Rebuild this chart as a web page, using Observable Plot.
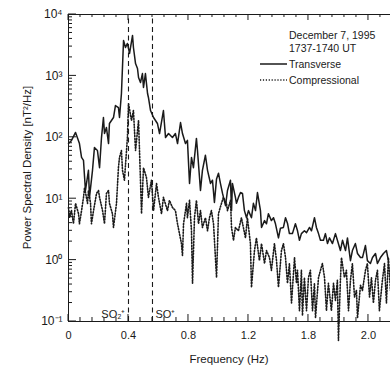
<!DOCTYPE html>
<html><head><meta charset="utf-8">
<script src="https://cdn.jsdelivr.net/npm/d3@7"></script>
<script src="https://cdn.jsdelivr.net/npm/@observablehq/plot@0.6"></script>
<style>body{margin:0;background:#fff} svg{font-family:"Liberation Sans",Arial,sans-serif}</style>
</head><body><div id="chart"></div>
<script>
const tFreq = [0,.020,.047,.073,.087,.100,.113,.133,.140,.160,.173,.193,.207,.220,.233,.240,.253,.267,.273,.300,.313,.333,.340,.353,.367,.380,.393,.407,.427,.433,.447,.460,.467,.480,.493,.500,.513,.527,.533,.547,.567,.593,.607,.633,.647,.667,.693,.713,.727,.747,.760,.780,.793,.807,.820,.833,.853,.860,.880,.893,.913,.927,.947,.960,.973,.987,1.000,1.013,1.027,1.047,1.060,1.080,1.087,1.093,1.113,1.120,1.133,1.147,1.160,1.173,1.187,1.200,1.220,1.233,1.247,1.260,1.280,1.287,1.307,1.320,1.333,1.353,1.367,1.380,1.400,1.413,1.433,1.447,1.460,1.473,1.493,1.513,1.527,1.540,1.553,1.573,1.587,1.607,1.620,1.640,1.653,1.667,1.680,1.700,1.713,1.727,1.740,1.760,1.780,1.793,1.813,1.827,1.847,1.860,1.880,1.893,1.913,1.927,1.947,1.960,1.980,1.993,2.013,2.027,2.047,2.060,2.080,2.100,2.120,2.133];
const tPsd = [79,89,120,79,47,42,13.6,29,10.5,29,68,61,32,99,210,115,144,79,168,210,329,305,210,517,3780,2900,3380,2320,4550,2900,1590,1320,942,781,1090,647,1090,517,445,273,210,168,115,273,99,115,99,115,79,174,115,79,89,17.7,47,32,96,61,13.6,29,51,29,17.7,20,8.7,21,26,17.7,12.2,7.7,13.6,20,6.4,17.7,10.5,8.4,10.5,12.6,12.2,6.4,4.9,6.4,4.9,8.4,6.4,12.6,6.4,3.4,4.4,3.9,5.7,4.4,4.9,3.9,2.3,3.3,3.4,4.9,4.0,2.7,2.7,3.9,3.0,2.1,2.7,3.0,2.8,3.4,3.0,4.9,3.4,2.7,2.1,2.1,2.7,1.86,2.3,1.86,2.7,2.1,1.43,2.1,1.43,2.3,0.98,1.43,1.86,1.28,1.10,1.10,1.73,0.98,0.88,1.10,1.28,0.88,1.10,1.28,1.43,0.98];
const cFreq = [0,.007,.020,.033,.047,.067,.073,.087,.100,.107,.127,.133,.147,.153,.167,.187,.200,.207,.227,.240,.253,.267,.273,.293,.300,.320,.333,.340,.353,.360,.373,.393,.400,.420,.433,.447,.467,.487,.500,.520,.533,.553,.567,.587,.600,.620,.633,.660,.673,.693,.713,.727,.753,.760,.767,.787,.793,.807,.820,.827,.840,.853,.867,.880,.893,.913,.927,.940,.953,.967,.987,1.000,1.020,1.033,1.053,1.060,1.080,1.087,1.100,1.113,1.133,1.153,1.180,1.193,1.213,1.220,1.240,1.253,1.273,1.287,1.307,1.320,1.340,1.353,1.373,1.387,1.400,1.420,1.433,1.447,1.460,1.473,1.487,1.507,1.520,1.527,1.540,1.553,1.560,1.573,1.587,1.600,1.613,1.627,1.640,1.647,1.667,1.680,1.693,1.707,1.720,1.733,1.753,1.767,1.780,1.793,1.800,1.813,1.820,1.840,1.853,1.867,1.880,1.893,1.907,1.920,1.927,1.947,1.960,1.980,1.993,2.007,2.020,2.033,2.047,2.060,2.073,2.093,2.107,2.120,2.133,2.147];
const cPsd = [7.2,4.9,6.4,3.9,8.4,5.7,3.9,6.4,10.5,15.2,8.4,13.6,8.4,3.9,6.4,12.2,13.6,10.5,6.4,3.9,12.2,13.6,8.4,5.7,3.4,8.4,32,47,61,29,20,99,355,188,273,61,188,5.7,32,22,10.5,20,6.4,17.7,10.5,5.7,10.5,6.4,9.4,7.2,6.4,3.9,1.86,1.19,3.9,8.4,4.9,9.4,3.0,0.42,4.9,9.4,3.9,6.4,3.4,4.9,3.0,4.9,6.4,3.9,0.52,5.7,8.4,10.5,8.4,6.4,9.4,3.4,2.1,3.4,3.0,4.9,2.3,4.9,1.86,0.36,1.43,2.3,0.98,1.86,0.88,1.43,1.10,0.68,1.86,0.98,0.36,1.43,1.86,1.10,0.42,0.88,0.20,1.10,0.42,0.68,0.15,0.68,0.125,0.52,0.15,0.52,0.68,0.15,0.42,0.115,0.52,0.68,0.88,0.52,0.15,0.42,0.15,0.42,0.22,0.47,0.049,0.47,1.10,0.52,0.68,0.15,0.47,0.88,0.25,0.32,0.115,0.39,0.32,0.68,0.88,0.25,0.52,0.20,0.47,0.68,0.15,0.47,0.88,0.20,1.10,0.32];

const xTicks = [0, 0.4, 0.8, 1.2, 1.6, 2.0];
const xTickLabels = ["0", "0.4", "0.8", "1.2", "1.8", "2.0"];
const yTicks = [0.1, 1, 10, 100, 1000, 10000];
const yTickLabels = ["10⁻¹", "10⁰", "10¹", "10²", "10³", "10⁴"];
const ionLines = [0.4, 0.56];
const ionLabels = ["SO₂⁺", "SO⁺"];
const legendTitle = ["December 7, 1995", "1737-1740 UT"];
const seriesNames = ["Transverse", "Compressional"];

const transverse = tFreq.map((f, i) => ({f, p: tPsd[i]}));
const compressional = cFreq.map((f, i) => ({f, p: cPsd[i]}));
const ink = "#1a1a1a";
const dots = "1.2,1.7";

const plot = Plot.plot({
  width: 390, height: 381,
  marginTop: 14, marginBottom: 60, marginLeft: 68, marginRight: 0,
  style: {fontFamily: "Liberation Sans, Arial, sans-serif", fontSize: "11px", background: "#fff", color: ink},
  x: {domain: [0, 2.147]},
  y: {type: "log", domain: [0.1, 10000]},
  marks: [
    Plot.ruleX(ionLines, {x: d => d, y1: 0.1, y2: 10000, stroke: ink, strokeWidth: 1.1, strokeDasharray: "5,3.5"}),
    Plot.line(compressional, {x: "f", y: "p", stroke: ink, strokeWidth: 1.6, strokeDasharray: dots}),
    Plot.line(transverse, {x: "f", y: "p", stroke: ink, strokeWidth: 1.5}),
    Plot.ruleY([0.1, 10000], {stroke: ink, strokeWidth: 1}),
    Plot.ruleX([0], {stroke: ink, strokeWidth: 1}),
    Plot.text([0], {x: ionLines[0], y: 0.1, text: () => ionLabels[0], textAnchor: "end", lineAnchor: "bottom", dx: -3, dy: -4, fontSize: 11, fill: ink}),
    Plot.text([1], {x: ionLines[1], y: 0.1, text: () => ionLabels[1], textAnchor: "start", lineAnchor: "bottom", dx: 3, dy: -4, fontSize: 11, fill: ink}),
    Plot.axisX({ticks: xTicks, tickFormat: d => xTickLabels[xTicks.indexOf(d)], tickSize: 0, tickPadding: 10, fontSize: 11, fill: ink, label: null}),
    Plot.axisY({ticks: yTicks, tickFormat: d => yTickLabels[yTicks.indexOf(d)], tickSize: 0, tickPadding: 6, fontSize: 12, fill: ink, label: null})
  ]
});

document.getElementById("chart").appendChild(plot);

const sx = plot.scale("x"), sy = plot.scale("y");
const svg = d3.select(plot);
const X0 = sx.apply(0), Yb = sy.apply(0.1), Yt = sy.apply(10000);
const g = svg.append("g").attr("stroke", ink).attr("stroke-width", 1);
// left axis ticks (inward)
for (let e = -1; e < 4; e++) {
  for (let k = 1; k <= 9; k++) {
    const v = k * Math.pow(10, e);
    const y = sy.apply(v);
    g.append("line").attr("x1", X0).attr("x2", X0 + (k === 1 ? 8 : 4)).attr("y1", y).attr("y2", y);
  }
}
g.append("line").attr("x1", X0).attr("x2", X0 + 8).attr("y1", Yt).attr("y2", Yt);
// bottom and top ticks
d3.range(0, 2.2, 0.08).forEach((f, i) => {
  const x = sx.apply(f);
  const major = i % 5 === 0;
  g.append("line").attr("x1", x).attr("x2", x).attr("y1", Yb).attr("y2", Yb - (major ? 7 : 4));
  g.append("line").attr("x1", x).attr("x2", x).attr("y1", Yt).attr("y2", Yt + (major ? 6 : 3));
});

// axis titles
svg.append("text").attr("transform", `translate(31,${(Yt + Yb) / 2}) rotate(-90)`)
  .attr("text-anchor", "middle").attr("font-size", 11.5).attr("fill", ink)
  .text("Power Spectral Density [nT²/Hz]");
svg.append("text").attr("x", 229).attr("y", 363).attr("text-anchor", "middle")
  .attr("font-size", 11.5).attr("fill", ink).text("Frequency (Hz)");

// legend
const lg = svg.append("g").attr("font-size", 10.5).attr("fill", ink).attr("text-anchor", "start");
lg.append("text").attr("x", 289).attr("y", 39).text(legendTitle[0]);
lg.append("text").attr("x", 289).attr("y", 52).text(legendTitle[1]);
lg.append("line").attr("x1", 260).attr("x2", 287).attr("y1", 64).attr("y2", 64).attr("stroke", ink).attr("stroke-width", 1.5);
lg.append("text").attr("x", 289).attr("y", 68).text(seriesNames[0]);
lg.append("line").attr("x1", 260).attr("x2", 287).attr("y1", 80).attr("y2", 80).attr("stroke", ink).attr("stroke-width", 1.6).attr("stroke-dasharray", dots);
lg.append("text").attr("x", 289).attr("y", 84).text(seriesNames[1]);
</script></body></html>
